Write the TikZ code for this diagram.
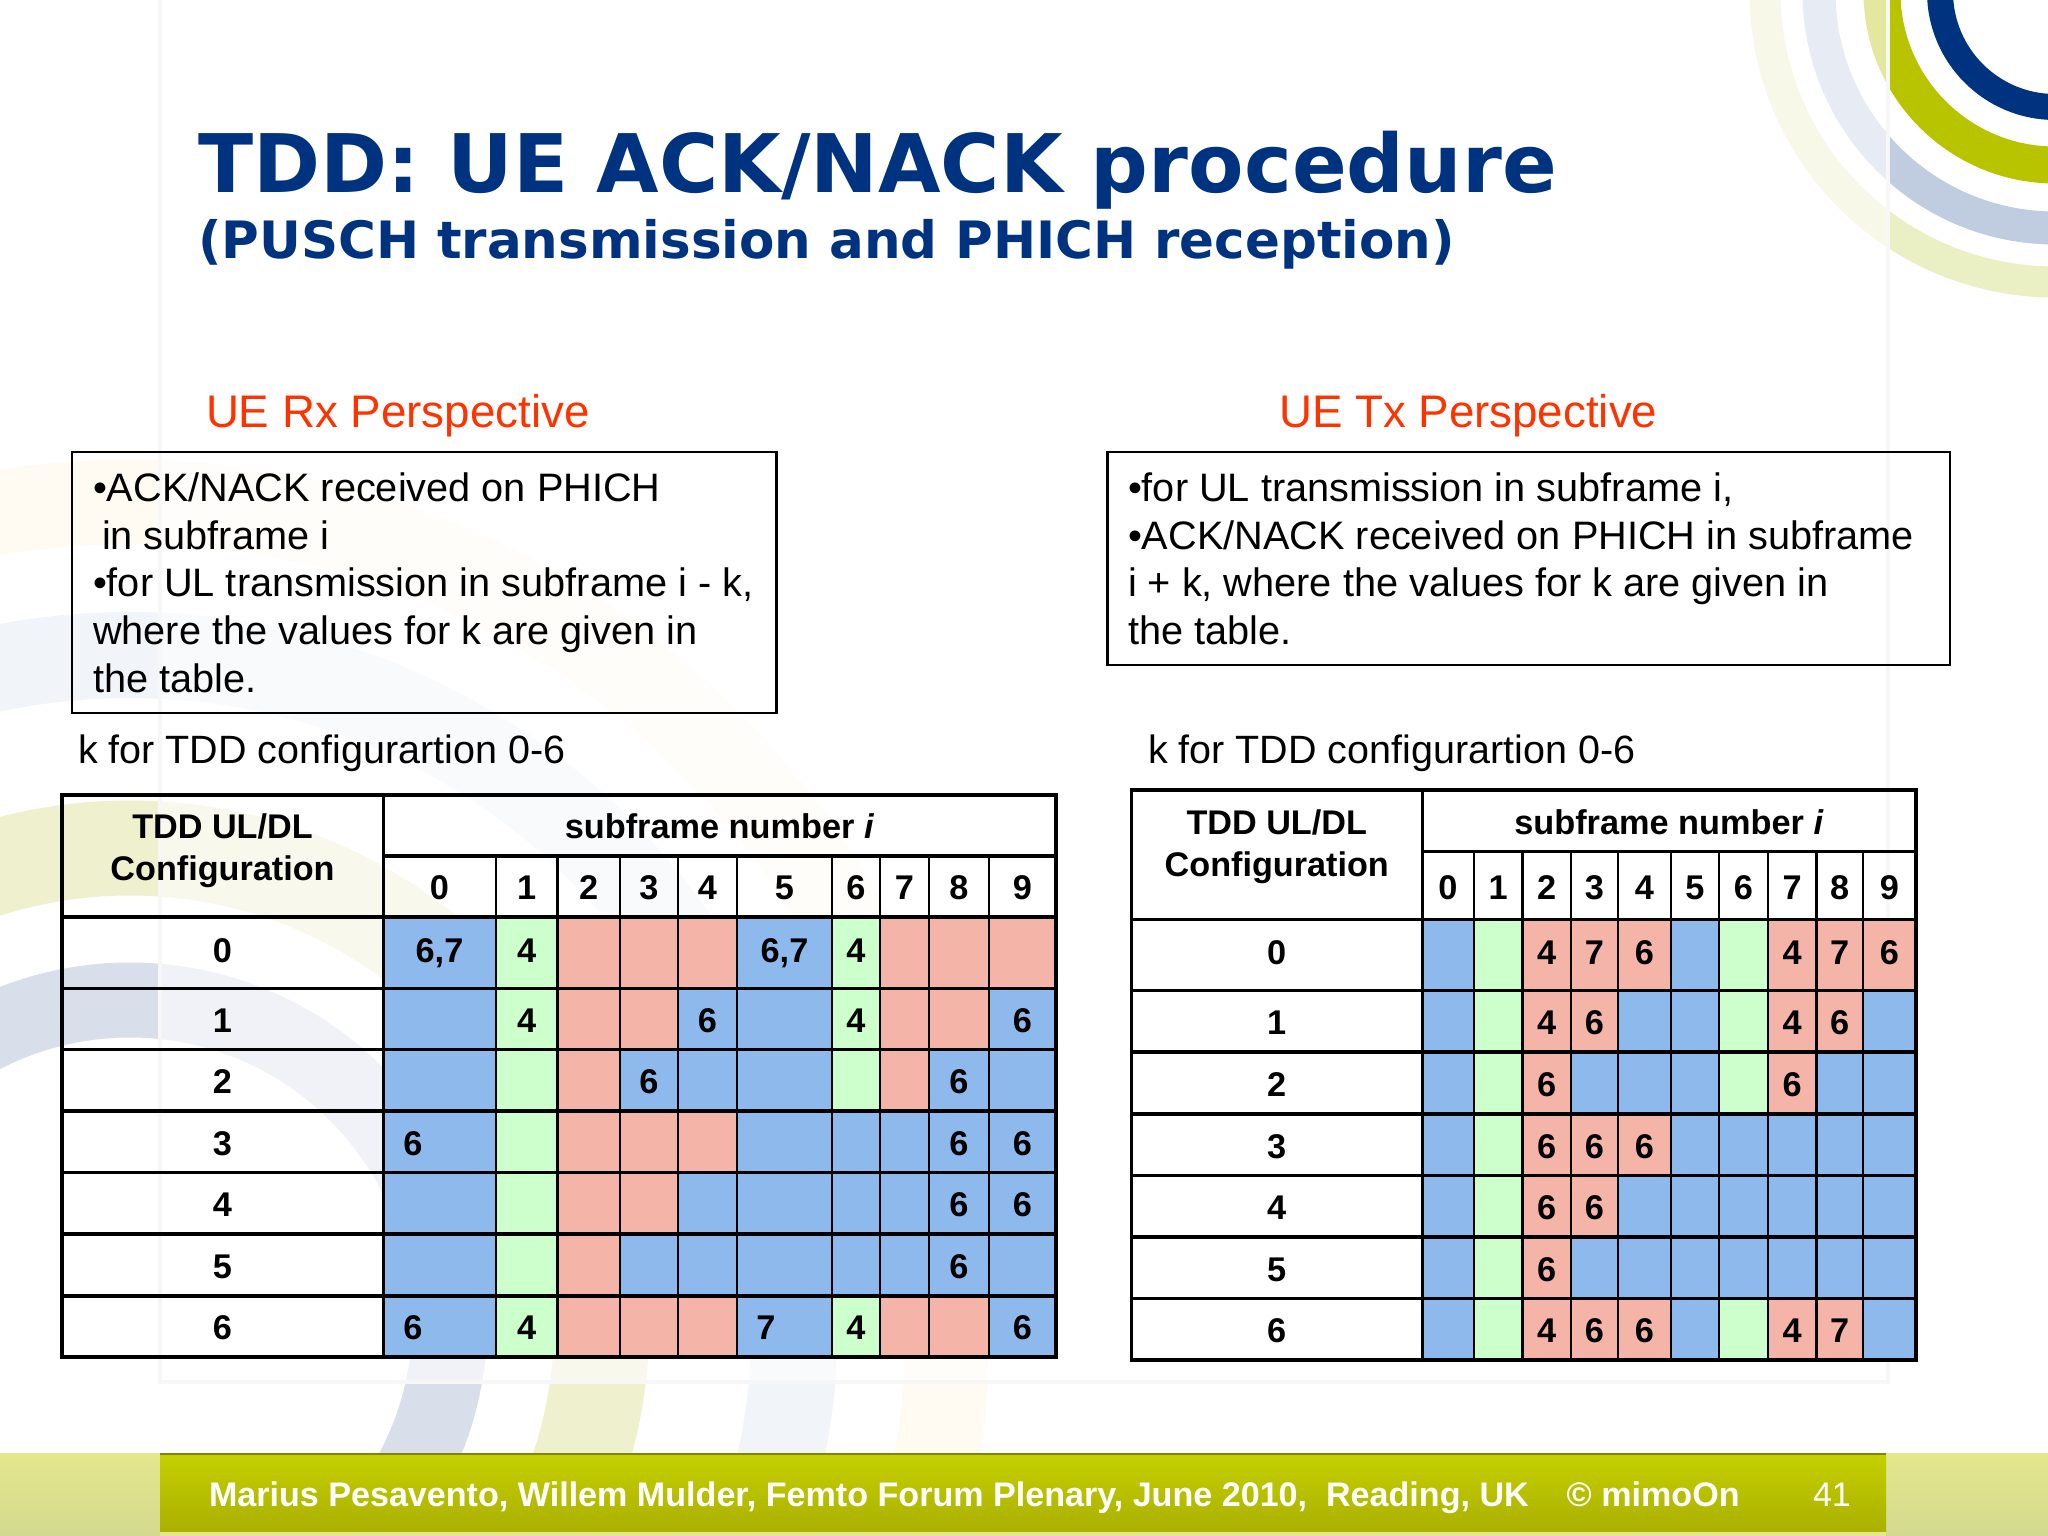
\documentclass[tikz,border=0pt]{standalone}
\usepackage{fontspec}
\setmainfont{Liberation Sans}
\newfontfamily\titlefont{DejaVu Sans}
\definecolor{navy}{HTML}{00337F}
\definecolor{tB}{HTML}{8DB9EC}
\definecolor{tG}{HTML}{CCFFCC}
\definecolor{tR}{HTML}{F4B4A8}
\definecolor{headred}{HTML}{FF3300}
\definecolor{ringgreen}{HTML}{B9C400}
\definecolor{ringblue}{HTML}{C0CCE0}
\definecolor{ringpale}{HTML}{EBEFC4}
\definecolor{bgblue}{HTML}{D8DFEA}
\definecolor{bgyellow}{HTML}{EFF1CE}
\definecolor{bgfaint}{HTML}{F1F4F8}
\definecolor{bgorange}{HTML}{FFFAF2}
\definecolor{E1}{HTML}{E4E78C}
\definecolor{E2}{HTML}{D3D98F}
\definecolor{C1}{HTML}{C5D000}
\definecolor{C2}{HTML}{A9AE00}
\tikzset{
  cell/.style={inner sep=0pt,outer sep=0pt,font=\fontsize{34.3}{34.3}\selectfont\bfseries,text height=26.6pt,text depth=0pt,align=center},
  rowadj0/.style={text height=19.6pt},
  headcell/.style={inner sep=0pt,outer sep=0pt,font=\fontsize{34.2}{42}\selectfont\bfseries,align=center},
  bodytext/.style={inner sep=0pt,outer sep=0pt,anchor=north west,align=left,font=\fontsize{39.7}{47.8}\selectfont},
  persp/.style={inner sep=0pt,outer sep=0pt,anchor=base west,text=headred,font=\fontsize{45.7}{45.7}\selectfont},
  capt/.style={inner sep=0pt,outer sep=0pt,anchor=base west,font=\fontsize{39.5}{39.5}\selectfont},
  textbox/.style={draw=black,line width=2.2pt},
  hline/.style={draw=black,line width=3.2pt},
  vline/.style={draw=black,line width=2.4pt},
  foot/.style={inner sep=0pt,outer sep=0pt,anchor=base west,text=white,font=\fontsize{34.1}{34.1}\selectfont\bfseries}
}
\def\docell#1#2{\node[cell,rowadj\rw/.try,fill=t#1,minimum width=\cw pt,minimum height=\ch pt] (\pre-\rw-\ci) at (\cx,\cy) {#2};}
\newcommand\rowcells[5]{%
  \def\pre{#1}\def\rw{#4}%
  \pgfmathsetmacro\ya{{#3}[#4+2]}%
  \pgfmathsetmacro\yb{{#3}[#4+3]}%
  \foreach \cellspec [count=\ci from 1] in {#5} {%
    \pgfmathsetmacro\xa{{#2}[\ci]}%
    \pgfmathsetmacro\xb{{#2}[\ci+1]}%
    \pgfmathsetmacro\cx{(\xa+\xb)/2}%
    \pgfmathsetmacro\cy{(\ya+\yb)/2}%
    \pgfmathsetmacro\cw{\xb-\xa}%
    \pgfmathsetmacro\ch{\yb-\ya}%
    \expandafter\docell\cellspec
  }%
}
\newcommand\tableframe[4]{%
  \pgfmathsetmacro\xl{{#2}[0]}\pgfmathsetmacro\xm{{#2}[1]}\pgfmathsetmacro\xr{{#2}[11]}%
  \pgfmathsetmacro\yt{{#3}[0]}\pgfmathsetmacro\ys{{#3}[1]}\pgfmathsetmacro\yh{{#3}[2]}\pgfmathsetmacro\yz{{#3}[9]}%
  \node[cell] (#1-sub) at ({(\xm+\xr)/2},{(\yt+\ys)/2}) {subframe number \textit{i}};
  \node[headcell] (#1-cfg) at ({(\xl+\xm)/2},{(\yt+\yh)/2+#4}) {TDD UL/DL\\Configuration};
  \foreach \n in {0,...,9} {%
    \pgfmathsetmacro\xa{{#2}[\n+1]}\pgfmathsetmacro\xb{{#2}[\n+2]}%
    \node[cell] (#1-h\n) at ({(\xa+\xb)/2},{(\ys+\yh)/2}) {\n};
  }
  \foreach \n in {0,...,6} {%
    \pgfmathsetmacro\ya{{#3}[\n+2]}\pgfmathsetmacro\yb{{#3}[\n+3]}%
    \node[cell,rowadj\n/.try] (#1-l\n) at ({(\xl+\xm)/2},{(\ya+\yb)/2}) {\n};
  }
  \foreach \n in {2,...,10} {%
    \pgfmathsetmacro\xa{{#2}[\n]}%
    \draw[vline] (\xa,\ys) -- (\xa,\yz);
  }
  \foreach \n in {2,...,9} {%
    \pgfmathsetmacro\ya{{#3}[\n]}%
    \draw[hline] (\xl,\ya) -- (\xr,\ya);
  }
  \draw[hline] (\xm,\ys) -- (\xr,\ys);
  \draw[vline,line width=3pt] (\xm,\yt) -- (\xm,\yz);
  \draw[hline,line width=3.4pt,line cap=rect] (\xl,\yt) rectangle (\xr,\yz);
}
\begin{document}
\begin{tikzpicture}[x=1pt,y=-1pt]
\useasboundingbox (0,0) rectangle (2048,1536);
\clip (0,0) rectangle (2048,1536);
\fill[white] (0,0) rectangle (2048,1536);
% background rings, lower left
\draw[bgorange,line width=84pt] (130,1320) circle [radius=818pt];
\draw[bgfaint,line width=86pt] (130,1320) circle [radius=665pt];
\draw[bgyellow,line width=95pt] (130,1320) circle [radius=472pt];
\draw[bgblue,line width=75pt] (130,1320) circle [radius=320pt];
% rings, upper right
\draw[ringpale,line width=31pt] (2055,-8) circle [radius=290pt];
\draw[ringblue,line width=33pt] (2055,-8) circle [radius=236pt];
\draw[ringgreen,line width=37pt] (2055,-8) circle [radius=173pt];
\draw[navy,line width=26pt] (2055,-8) circle [radius=115pt];
% panel
\fill[white,opacity=.62] (160,0) rectangle (1888,1382);
\draw[black!3,line width=4pt] (160,0) -- (160,1382) -- (1888,1382) -- (1888,0);
% footer
\shade[top color=E1,bottom color=E2] (0,1453) rectangle (2048,1536);
\shade[top color=C1,bottom color=C2] (160,1453) rectangle (1886,1536);
\draw[black!35!C1,line width=2pt] (160,1454) -- (1886,1454);
\fill[E1] (160,1532) rectangle (1886,1536);
% titles
\node[inner sep=0pt,anchor=base west,text=navy,font=\titlefont\fontsize{80.8}{80.8}\selectfont\bfseries] (title) at (198,192) {TDD: UE ACK/NACK procedure};
\node[inner sep=0pt,anchor=base west,text=navy,font=\titlefont\fontsize{51.5}{51.5}\selectfont\bfseries] (subtitle) at (198,258) {(PUSCH transmission and PHICH reception)};
% perspectives
\node[persp] (rxhead) at (206,427) {UE Rx Perspective};
\node[persp] (txhead) at (1279,427) {UE Tx Perspective};
\draw[textbox] (72,452) rectangle (776.5,712.7);
\draw[textbox] (1107.5,452) rectangle (1950,665);
\node[bodytext] (rxtext) at (93,472.5) {•ACK/NACK received on PHICH\\[0pt]\hspace{9pt}in subframe i\\•for UL transmission in subframe i - k,\\where the values for k are given in\\the table.};
\node[bodytext] (txtext) at (1128,472.5) {•for UL transmission in subframe i,\\•ACK/NACK received on PHICH in subframe\\i + k, where the values for k are given in\\the table.};
\node[capt] (rxcap) at (78,763) {k for TDD configurartion 0-6};
\node[capt] (txcap) at (1148,763) {k for TDD configurartion 0-6};
% left table
\def\LX{62,383,496,557.5,620,678,737,832,880,929,989,1056}
\def\LY{795,856,917,988.5,1049.5,1111,1172.5,1234,1296,1357}
\rowcells{L}{\LX}{\LY}{0}{{B}{6,7},{G}{4},{R}{},{R}{},{R}{},{B}{6,7},{G}{4},{R}{},{R}{},{R}{}}
\rowcells{L}{\LX}{\LY}{1}{{B}{},{G}{4},{R}{},{R}{},{B}{6},{B}{},{G}{4},{R}{},{R}{},{B}{6}}
\rowcells{L}{\LX}{\LY}{2}{{B}{},{G}{},{R}{},{B}{6},{B}{},{B}{},{G}{},{R}{},{B}{6},{B}{}}
\rowcells{L}{\LX}{\LY}{3}{{B}{},{G}{},{R}{},{R}{},{R}{},{B}{},{B}{},{B}{},{B}{6},{B}{6}}
\rowcells{L}{\LX}{\LY}{4}{{B}{},{G}{},{R}{},{R}{},{B}{},{B}{},{B}{},{B}{},{B}{6},{B}{6}}
\rowcells{L}{\LX}{\LY}{5}{{B}{},{G}{},{R}{},{B}{},{B}{},{B}{},{B}{},{B}{},{B}{6},{B}{}}
\rowcells{L}{\LX}{\LY}{6}{{B}{},{G}{4},{R}{},{R}{},{R}{},{B}{},{G}{4},{R}{},{R}{},{B}{6}}
\node[cell] (L-x3) at (413,1142.5) {6};
\node[cell] (L-x6a) at (413,1326.5) {6};
\node[cell] (L-x6b) at (766,1326.5) {7};
\tableframe{L}{\LX}{\LY}{-5.5}
% right table
\def\RX{1131.5,1422,1474,1522.5,1571,1618,1671,1719,1768,1816.5,1863,1916}
\def\RY{790,851.7,919.7,990.5,1052,1114,1175.6,1237,1298.5,1360}
\rowcells{R}{\RX}{\RY}{0}{{B}{},{G}{},{R}{4},{R}{7},{R}{6},{B}{},{G}{},{R}{4},{R}{7},{R}{6}}
\rowcells{R}{\RX}{\RY}{1}{{B}{},{G}{},{R}{4},{R}{6},{B}{},{B}{},{G}{},{R}{4},{R}{6},{B}{}}
\rowcells{R}{\RX}{\RY}{2}{{B}{},{G}{},{R}{6},{B}{},{B}{},{B}{},{G}{},{R}{6},{B}{},{B}{}}
\rowcells{R}{\RX}{\RY}{3}{{B}{},{G}{},{R}{6},{R}{6},{R}{6},{B}{},{B}{},{B}{},{B}{},{B}{}}
\rowcells{R}{\RX}{\RY}{4}{{B}{},{G}{},{R}{6},{R}{6},{B}{},{B}{},{B}{},{B}{},{B}{},{B}{}}
\rowcells{R}{\RX}{\RY}{5}{{B}{},{G}{},{R}{6},{B}{},{B}{},{B}{},{B}{},{B}{},{B}{},{B}{}}
\rowcells{R}{\RX}{\RY}{6}{{B}{},{G}{},{R}{4},{R}{6},{R}{6},{B}{},{G}{},{R}{4},{R}{7},{B}{}}
\tableframe{R}{\RX}{\RY}{-8.5}
% footer text
\node[foot] (foottext) at (209,1506) {Marius Pesavento, Willem Mulder, Femto Forum Plenary, June 2010,\ \ Reading, UK\ \ \ \ © mimoOn};
\node[foot,font=\fontsize{34.1}{34.1}\selectfont] (pageno) at (1813,1506) {41};
\end{tikzpicture}
\end{document}
